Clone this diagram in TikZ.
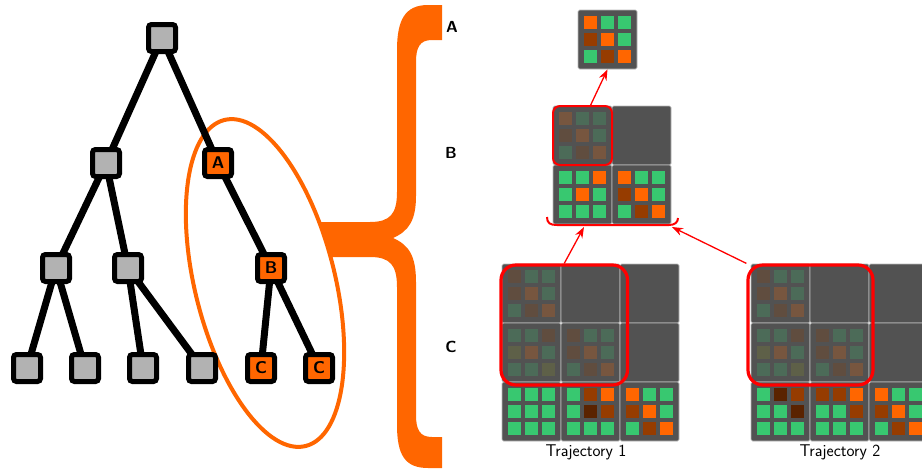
\documentclass[tikz,border=0pt]{standalone}
\usetikzlibrary{arrows.meta}
\definecolor{hl}{RGB}{255,102,0}
\definecolor{ora}{RGB}{255,102,0}
\definecolor{grn}{RGB}{56,200,112}
\definecolor{brn}{RGB}{150,60,0}
\definecolor{dbr}{RGB}{90,35,0}
\definecolor{olv}{RGB}{140,150,40}
\definecolor{blkgray}{RGB}{82,82,82}
\definecolor{selred}{RGB}{255,0,0}
\newcommand{\lblfont}{\sffamily\bfseries\fontsize{16}{19}\selectfont}
\tikzset{
  tnode/.style={draw=black, line width=5pt, fill=gray!60, rounded corners=3pt, minimum size=27pt, inner sep=0pt, outer sep=0pt, font=\sffamily\bfseries\fontsize{17}{20}\selectfont},
  hnode/.style={tnode, fill=hl},
  tedge/.style={draw=black, line width=7pt},
  blk/.style={draw=gray!55, line width=0.6pt, fill=blkgray, rounded corners=1.5pt, minimum size=59pt, inner sep=0pt},
  sel/.style={draw=selred, line width=3.2pt, rounded corners=15pt, inner sep=0pt},
  redarr/.style={draw=selred, line width=1.3pt, -{Stealth[length=11pt, width=8pt]}},
  lbl/.style={font=\lblfont, inner sep=0pt}
}
% block of 3x3 cells: name, left, top, opacity, colours
\newcommand{\cellblock}[5]{%
  \node[blk] (#1) at (#2+29.5,#3+29.5) {};
  \foreach \cc [count=\i from 0] in {#5}{%
    \pgfmathtruncatemacro{\cx}{mod(\i,3)}%
    \pgfmathtruncatemacro{\cy}{div(\i,3)}%
    \fill[\cc, fill opacity=#4] (#2+6.25+17*\cx,#3+6.25+17*\cy) rectangle ++(12.5,12.5);
  }%
}
\begin{document}
\begin{tikzpicture}[x=1pt,y=-1pt]
\useasboundingbox (0,0) rectangle (922,469);
\clip (0,0) rectangle (922,469);

% big brace
\fill[hl] (442,5) -- (428,5) .. controls (405,5) and (397,20) .. (397,50) -- (397,192)
  .. controls (397,214) and (390,222) .. (370,222) -- (320,222) -- (330,257) -- (370,257)
  .. controls (390,257) and (397,265) .. (397,287) -- (397,425)
  .. controls (397,455) and (405,468) .. (428,468) -- (442,468) -- (442,437) -- (432,437)
  .. controls (420,437) and (416,430) .. (416,415) -- (416,282)
  .. controls (416,256) and (409,245) .. (393,238)
  .. controls (409,231) and (416,220) .. (416,196) -- (416,62)
  .. controls (416,47) and (420,40) .. (432,40) -- (442,40) -- cycle;
\draw[hl, line width=4pt, rotate around={14:(265,283)}] (265,283) ellipse [x radius=70, y radius=168];

\node[lbl] (la) at (452,27) {A};
\node[lbl] (lb) at (451,153) {B};
\node[lbl] (lc) at (451,347) {C};

% tree
\node[tnode] (r) at (162,38) {};
\node[tnode] (n1) at (106,163) {};
\node[hnode] (a) at (218,163) {A};
\node[tnode] (n11) at (56,268) {};
\node[tnode] (n12) at (128,268) {};
\node[hnode] (b) at (271,268) {B};
\node[tnode] (l1) at (27,368) {};
\node[tnode] (l2) at (85,368) {};
\node[tnode] (l3) at (143,368) {};
\node[tnode] (l4) at (202,368) {};
\node[hnode] (c1) at (261,368) {C};
\node[hnode] (c2) at (319,368) {C};
\draw[tedge] (r) -- (n1);
\draw[tedge] (r) -- (a);
\draw[tedge] (n1) -- (n11);
\draw[tedge] (n1) -- (n12);
\draw[tedge] (n11) -- (l1);
\draw[tedge] (n11) -- (l2);
\draw[tedge] (n12) -- (l3);
\draw[tedge] (n12) -- (l4);
\draw[tedge] (a) -- (b);
\draw[tedge] (b) -- (c1);
\draw[tedge] (b) -- (c2);

% level A
\cellblock{top}{578}{10}{1}{ora,grn,grn,brn,ora,grn,grn,brn,ora}

% level B
\cellblock{bA}{553}{106}{0.22}{ora,grn,grn,brn,ora,grn,grn,brn,ora}
\node[blk] (bB) at (612+29.5,106+29.5) {};
\cellblock{bC}{553}{165}{1}{grn,grn,ora,grn,ora,grn,grn,grn,grn}
\cellblock{bD}{612}{165}{1}{ora,grn,grn,brn,ora,grn,grn,brn,ora}
\node[sel, line width=2pt, rounded corners=7pt, minimum size=59pt] (bsel) at (bA) {};
\coordinate (bbl) at (547,217);
\coordinate (bbr) at (678,218);
\coordinate (tipA) at (584,227);
\coordinate (tipB) at (672,227);
\draw[selred, line width=2pt] (bbl) .. controls (547,223) and (550,225) .. (557,225) -- (669,225) .. controls (675,225) and (678,222) .. (bbr);

% trajectory 1
\cellblock{ta1}{502}{264}{0.22}{brn,grn,grn,brn,ora,grn,grn,brn,ora}
\node[blk] (ta2) at (561+29.5,264+29.5) {};
\node[blk] (ta3) at (620+29.5,264+29.5) {};
\cellblock{ta4}{502}{323}{0.22}{grn,grn,brn,olv,ora,grn,grn,grn,olv}
\cellblock{ta5}{561}{323}{0.22}{brn,grn,grn,brn,ora,grn,grn,brn,ora}
\node[blk] (ta6) at (620+29.5,323+29.5) {};
\cellblock{ta7}{502}{382}{1}{grn,grn,grn,grn,grn,grn,grn,grn,grn}
\cellblock{ta8}{561}{382}{1}{grn,brn,ora,grn,dbr,brn,grn,grn,grn}
\cellblock{ta9}{620}{382}{1}{ora,grn,grn,brn,ora,grn,grn,brn,ora}
\node[sel, minimum width=126.5pt, minimum height=120pt] (t1sel) at (564.25,325) {};
\node[lbl, font=\sffamily\fontsize{17}{20}\selectfont] (t1) at (586,452) {Trajectory 1};

% trajectory 2
\cellblock{tb1}{751}{264}{0.22}{brn,grn,grn,brn,ora,grn,grn,brn,ora}
\node[blk] (tb2) at (810+29.5,264+29.5) {};
\node[blk] (tb3) at (869+29.5,264+29.5) {};
\cellblock{tb4}{751}{323}{0.22}{grn,grn,brn,olv,ora,grn,grn,grn,olv}
\cellblock{tb5}{810}{323}{0.22}{brn,grn,grn,brn,ora,grn,grn,brn,ora}
\node[blk] (tb6) at (869+29.5,323+29.5) {};
\cellblock{tb7}{751}{382}{1}{grn,dbr,brn,grn,grn,dbr,grn,grn,grn}
\cellblock{tb8}{810}{382}{1}{brn,brn,ora,grn,grn,brn,grn,grn,grn}
\cellblock{tb9}{869}{382}{1}{ora,grn,grn,brn,ora,grn,grn,brn,ora}
\node[sel, minimum width=125pt, minimum height=120pt] (t2sel) at (810.5,325) {};
\node[lbl, font=\sffamily\fontsize{17}{20}\selectfont] (t2) at (840,452) {Trajectory 2};

\draw[redarr] (bsel.75) -- (top.south);
\draw[redarr] (t1sel.north) -- (tipA);
\draw[redarr] (t2sel.north west) -- (tipB);
\end{tikzpicture}
\end{document}
